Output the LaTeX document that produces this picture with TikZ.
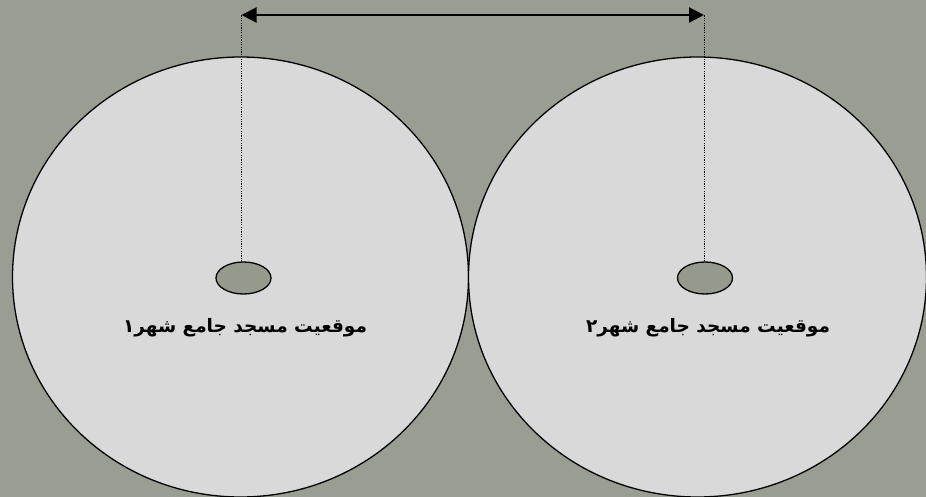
\documentclass[tikz,border=0pt]{standalone}
\usepackage{fontspec}
\newfontfamily\arabicfont[Script=Arabic]{DejaVu Sans}
\TeXXeTstate=1
\usetikzlibrary{arrows.meta,shapes.geometric}
\definecolor{bgc}{RGB}{154,158,146}
\definecolor{dotc}{RGB}{150,154,140}
\definecolor{discc}{RGB}{217,217,217}
\tikzset{
  disc/.style={draw=black, line width=1.3pt, fill=discc},
  spot/.style={ellipse, draw=black, line width=1.3pt, fill=dotc, minimum width=55pt, minimum height=32pt, inner sep=0pt},
  guide/.style={dash pattern=on 1.2pt off 1.2pt, line width=1pt, black},
  label/.style={font=\arabicfont\bfseries\fontsize{18.5}{22}\selectfont, text=black},
  span/.style={line width=2.2pt, {Triangle[length=15pt,width=15pt]}-{Triangle[length=15pt,width=15pt]}}
}
\begin{document}
\begin{tikzpicture}[x=1pt,y=-1pt]
\useasboundingbox (0,0) rectangle (926,497);
\fill[bgc] (0,0) rectangle (926,497);
\begin{scope}
\clip (0,0) rectangle (926,497);
\draw[disc] (240.5,277) ellipse [x radius=228, y radius=220];
\draw[disc] (697.5,277) ellipse [x radius=229, y radius=220];
\end{scope}
\node[spot] (m1) at (243.5,278) {};
\node[spot] (m2) at (705,278) {};
\coordinate (t1) at (241.5,15);
\coordinate (t2) at (704,15);
\draw[guide] (m1.north -| t1) -- (t1);
\draw[guide] (m2.north -| t2) -- (t2);
\draw[span] (t1) -- (t2);
\node[label] (l1) at (245,328) {\beginR موقعیت مسجد جامع شهر۱\endR};
\node[label] (l2) at (708,328) {\beginR موقعیت مسجد جامع شهر۲\endR};
\end{tikzpicture}
\end{document}
